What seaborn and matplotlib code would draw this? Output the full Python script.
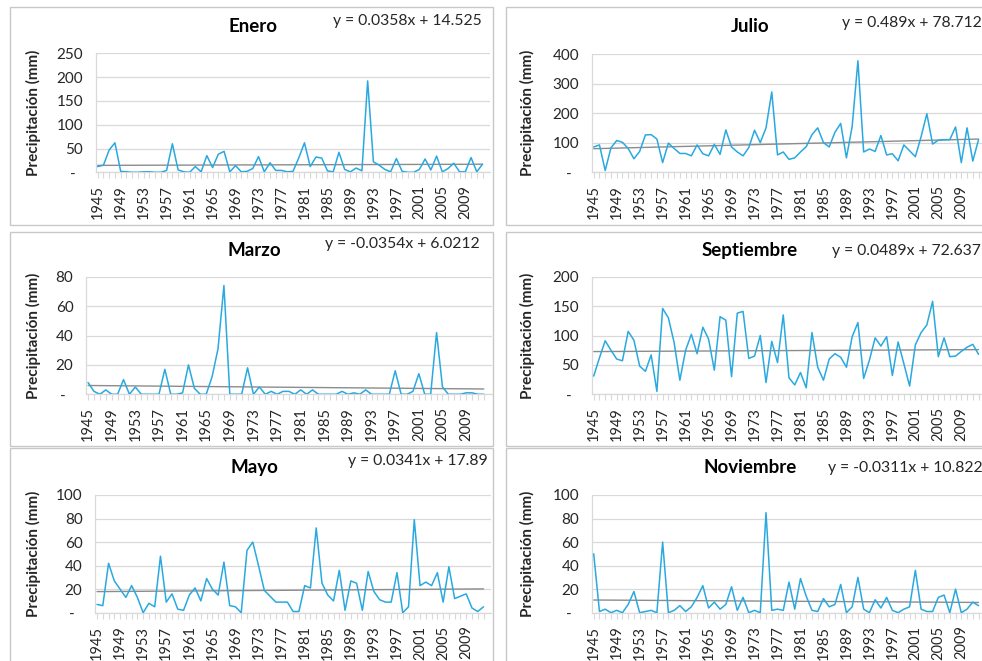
import numpy as np
import pandas as pd
import matplotlib.pyplot as plt
import seaborn as sns
from matplotlib.patches import Rectangle

# Precipitación mensual (mm) 1945-2012
years = list(range(1945, 2013))

enero = [12, 15, 47, 62, 2, 1, 0, 0, 1, 1,
         0, 0, 4, 60, 5, 1, 0, 12, 1, 35,
         10, 38, 44, 1, 14, 1, 2, 8, 33, 1,
         20, 4, 4, 1, 2, 30, 62, 12, 32, 30,
         3, 1, 42, 6, 1, 9, 3, 192, 22, 15,
         6, 1, 29, 2, 0, 0, 6, 28, 5, 34,
         1, 8, 19, 1, 1, 31, 1, 17]

julio = [85, 92, 5, 82, 107, 101, 80, 45, 70, 126,
         127, 112, 32, 98, 80, 63, 63, 55, 92, 62,
         55, 94, 60, 143, 85, 68, 55, 83, 142, 100,
         150, 272, 58, 68, 43, 48, 68, 86, 127, 150,
         100, 85, 135, 165, 48, 155, 378, 68, 78, 70,
         124, 58, 62, 38, 92, 72, 52, 120, 198, 95,
         108, 110, 110, 153, 32, 150, 37, 110]

marzo = [8, 2, 0, 3, 0, 0, 10, 0, 5, 0,
         0, 0, 0, 17, 0, 0, 1, 20, 4, 0,
         0, 12, 31, 74, 0, 0, 0, 18, 0, 5,
         0, 2, 0, 2, 2, 0, 3, 0, 3, 0,
         0, 0, 0, 2, 0, 1, 0, 3, 0, 0,
         0, 0, 16, 0, 0, 2, 14, 0, 0, 42,
         5, 0, 0, 0, 1, 1, 0, 0]

septiembre = [31, 62, 91, 75, 60, 57, 107, 92, 48, 39,
              67, 5, 146, 130, 88, 24, 75, 102, 69, 114,
              94, 41, 132, 126, 30, 138, 141, 61, 65, 100,
              20, 90, 54, 135, 28, 16, 37, 11, 105, 46,
              24, 60, 69, 63, 46, 98, 122, 27, 58, 96,
              82, 98, 32, 89, 52, 14, 84, 105, 118, 158,
              64, 96, 64, 65, 73, 80, 85, 68]

mayo = [7, 6, 42, 27, 20, 13, 23, 13, 0, 8,
        5, 48, 9, 16, 3, 2, 15, 21, 10, 29,
        20, 15, 43, 6, 5, 0, 53, 60, 40, 19,
        14, 9, 9, 9, 1, 1, 23, 21, 72, 25,
        15, 10, 36, 2, 27, 25, 2, 35, 18, 11,
        9, 9, 34, 0, 5, 79, 23, 26, 23, 34,
        9, 39, 12, 14, 16, 4, 1, 5]

noviembre = [50, 1, 3, 0, 2, 0, 7, 18, 0, 1,
             2, 0, 60, 0, 2, 6, 1, 5, 13, 23,
             4, 9, 3, 7, 22, 2, 13, 0, 2, 0,
             85, 2, 3, 2, 26, 3, 29, 14, 2, 1,
             12, 5, 7, 24, 0, 5, 30, 3, 0, 11,
             4, 13, 2, 0, 3, 5, 36, 3, 1, 1,
             13, 15, 0, 20, 0, 3, 9, 6]

months = ['Enero', 'Julio', 'Marzo', 'Septiembre', 'Mayo', 'Noviembre']
series = [enero, julio, marzo, septiembre, mayo, noviembre]
slopes = [0.0358, 0.489, -0.0354, 0.0489, 0.0341, -0.0311]
intercepts = [14.525, 78.712, 6.0212, 72.637, 17.89, 10.822]
equations = ['y = 0.0358x + 14.525', 'y = 0.489x + 78.712',
             'y = -0.0354x + 6.0212', 'y = 0.0489x + 72.637',
             'y = 0.0341x + 17.89', 'y = -0.0311x + 10.822']
ymax = [250, 400, 80, 200, 100, 100]
ystep = [50, 100, 20, 50, 20, 20]

sns.set_theme(style='white')
plt.rcParams['font.family'] = ['Lato', 'DejaVu Sans']

W, H = 982, 661
fig = plt.figure(figsize=(W / 100, H / 100), dpi=100)
fig.patch.set_facecolor('white')

# layout in pixels
boxes = [(10, 7, 493, 225), (506, 7, 995, 225),
         (10, 232, 493, 446), (506, 232, 995, 446),
         (10, 448, 493, 680), (506, 448, 995, 680)]
plots = [(95.7, 53.3, 490, 172.3), (591.7, 54.3, 986, 172),
         (86, 276.7, 491.5, 394.3), (591.7, 276.7, 986, 394.3),
         (95, 495, 491, 612.7), (591.7, 495, 986, 612.7)]
titles = [(253, 26), (750, 27), (254, 250.7), (750, 250.7), (254, 468), (750, 467.7)]
eqpos = [(481.7, 20.7, 'right'), (841.7, 23.3, 'left'),
         (480, 244, 'right'), (832.3, 250.7, 'left'),
         (487.3, 461, 'right'), (828.3, 467.7, 'left')]

line_color = '#29A9E0'
grid_color = '#D9D9D9'
text_color = '#262626'
idx = np.arange(len(years))

for i, name in enumerate(months):
    row = i // 2
    bx0, by0, bx1, by1 = boxes[i]
    fig.patches.append(Rectangle((bx0 / W, 1 - by1 / H), (bx1 - bx0) / W, (by1 - by0) / H,
                                 transform=fig.transFigure, facecolor='white',
                                 edgecolor='#C8C8C8', linewidth=1, zorder=2 * row + 0.5))

    l, t, r, b = plots[i]
    ax = fig.add_axes([l / W, 1 - b / H, (r - l) / W, (b - t) / H])
    ax.set_zorder(2 * row + 1)
    ax.patch.set_alpha(0)

    df = pd.DataFrame({'idx': idx, 'valor': series[i]})
    trend = slopes[i] * (idx + 1) + intercepts[i]
    ax.plot(idx, trend, color='#8C8C8C', linewidth=1.0, zorder=2)
    sns.lineplot(data=df, x='idx', y='valor', ax=ax, color=line_color, linewidth=1.1, zorder=3)

    ax.set_xlim(-0.35, 68.3)
    ax.set_ylim(0, ymax[i])
    yt = np.arange(0, ymax[i] + 1, ystep[i])
    ax.set_yticks(yt)
    ax.set_yticklabels(['-  '] + [str(v) for v in yt[1:]])
    ax.set_xticks(idx)
    ax.set_xticklabels([str(y) if (y - 1945) % 4 == 0 else '' for y in years], rotation=90)
    ax.tick_params(axis='y', length=0, pad=9, labelsize=11, labelcolor=text_color)
    ax.tick_params(axis='x', length=4.3, width=0.8, color=grid_color, pad=5,
                   labelsize=10.5, labelcolor=text_color, bottom=True)
    ax.yaxis.grid(True, color=grid_color, linewidth=0.9)
    ax.xaxis.grid(False)
    for s in ['top', 'right']:
        ax.spines[s].set_visible(False)
    for s in ['left', 'bottom']:
        ax.spines[s].set_color(grid_color)
        ax.spines[s].set_linewidth(0.9)
    ax.set_xlabel('')
    ax.set_ylabel('')

    cx = 33 if i % 2 == 0 else 527
    fig.text(cx / W, 1 - ((t + b) / 2) / H, 'Precipitación (mm)', rotation=90,
             ha='center', va='center', fontsize=11, fontweight='bold', color=text_color,
             zorder=2 * row + 1)
    tx, ty = titles[i]
    fig.text(tx / W, 1 - ty / H, name, ha='center', va='center', fontsize=13.5,
             fontweight='bold', color='black', zorder=2 * row + 1)
    ex, ey, ha = eqpos[i]
    fig.text(ex / W, 1 - ey / H, equations[i], ha=ha, va='center', fontsize=11.3,
             color=text_color, zorder=2 * row + 1)

fig.savefig('out.png', dpi=100)
